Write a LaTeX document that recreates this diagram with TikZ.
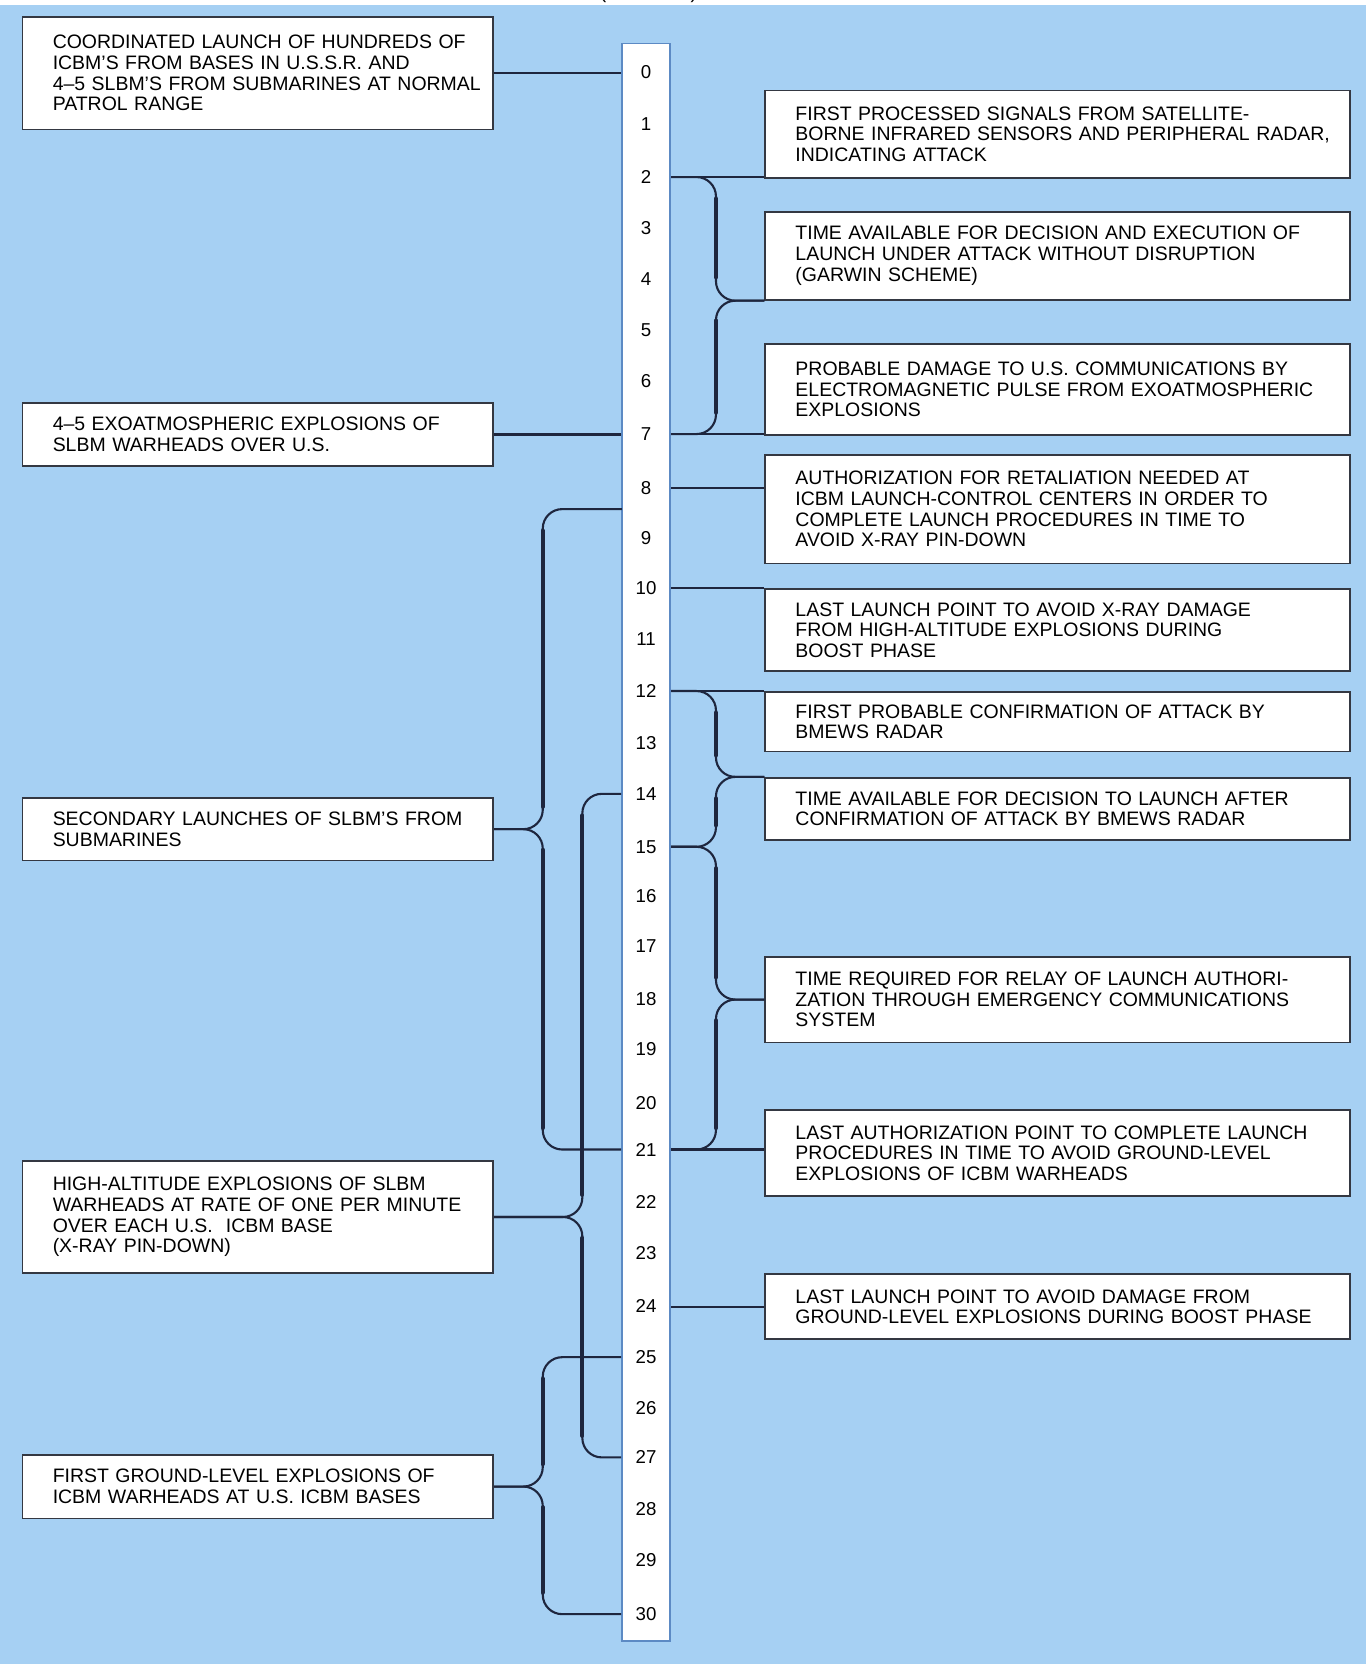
\documentclass[tikz,border=0pt]{standalone}
\usepackage{fontspec}
\setmainfont{Liberation Sans}
\definecolor{paleblue}{RGB}{166,208,243}
\definecolor{stripblue}{RGB}{92,138,196}
\definecolor{rule}{RGB}{30,38,62}
\definecolor{frame}{RGB}{52,56,66}
\begin{document}
\begin{tikzpicture}[x=0.9cm,y=0.9cm,
  event/.style={draw=frame,line width=0.9pt,fill=white,anchor=north west,
    inner xsep=0.53cm,inner ysep=0.08cm,align=left,
    font=\fontsize{9.7}{10.3}\selectfont},
  lbox/.style={event,text width=7.184cm},
  rbox/.style={event,text width=9.182cm},
  minute/.style={font=\fontsize{9.3}{10}\selectfont,inner sep=0},
  link/.style={draw=rule,line width=1.05pt},
  brace/.style={link,rounded corners=0.34cm},
  bracebar/.style={draw=rule,line width=2.1pt,line cap=round}]
\useasboundingbox (0,-30.97) rectangle (26.576,1.405);
\fill[paleblue] (0,-30.97) rectangle (26.576,1.307);
\node[anchor=south,inner sep=0,font=\fontsize{10}{12}\selectfont] (lpar) at (11.73,1.346) {(};
\node[anchor=south,inner sep=0,font=\fontsize{10}{12}\selectfont] (rpar) at (13.50,1.346) {)};

% time scale
\node[draw=stripblue,line width=0.8pt,fill=white,inner sep=0,
  minimum width=0.846cm,minimum height=27.97cm] (col) at (12.57,-14.98) {};
\foreach \n/\y in {0/0,1/-1.01,2/-2.04,3/-3.03,4/-4.03,5/-5.02,6/-6.01,7/-7.04,
  8/-8.09,9/-9.06,10/-10.04,11/-11.03,12/-12.04,13/-13.05,14/-14.04,15/-15.07,
  16/-16.02,17/-17.01,18/-18.03,19/-19.0,20/-20.05,21/-20.96,22/-21.99,23/-22.98,
  24/-24.0,25/-25.0,26/-26.0,27/-26.95,28/-27.96,29/-28.95,30/-30.0}
  \node[minute] (m\n) at (12.57,\y) {\n};
\coordinate (sectop) at (12.10,-8.5);
\coordinate (rbr) at (13.93,0);
\coordinate (lbr) at (10.56,0);
\coordinate (hbr) at (11.33,0);

% Soviet side
\node[lbox,minimum height=1.971cm] (launch) at (0.42,1.094)
  {\mbox{COORDINATED LAUNCH OF HUNDREDS OF}\\\mbox{ICBM'S FROM BASES IN U.S.S.R. AND}\\\mbox{4--5 SLBM'S FROM SUBMARINES AT NORMAL}\\\mbox{PATROL RANGE}};
\node[lbox,minimum height=1.098cm] (exo) at (0.42,-6.42)
  {\mbox{4--5 EXOATMOSPHERIC EXPLOSIONS OF}\\\mbox{SLBM WARHEADS OVER U.S.}};
\node[lbox,minimum height=1.098cm] (secondary) at (0.42,-14.10)
  {\mbox{SECONDARY LAUNCHES OF SLBM'S FROM}\\\mbox{SUBMARINES}};
\node[lbox,minimum height=1.971cm] (highalt) at (0.42,-21.16)
  {\mbox{HIGH-ALTITUDE EXPLOSIONS OF SLBM}\\\mbox{WARHEADS AT RATE OF ONE PER MINUTE}\\\mbox{OVER EACH U.S.\ \ ICBM BASE}\\\mbox{(X-RAY PIN-DOWN)}};
\node[lbox,minimum height=1.116cm] (ground) at (0.42,-26.88)
  {\mbox{FIRST GROUND-LEVEL EXPLOSIONS OF}\\\mbox{ICBM WARHEADS AT U.S. ICBM BASES}};

% U.S. side
\node[rbox,minimum height=1.53cm] (signals) at (14.87,-0.34)
  {\mbox{FIRST PROCESSED SIGNALS FROM SATELLITE-}\\\mbox{BORNE INFRARED SENSORS AND PERIPHERAL RADAR,}\\\mbox{INDICATING ATTACK}};
\node[rbox,minimum height=1.539cm] (garwin) at (14.87,-2.70)
  {\mbox{TIME AVAILABLE FOR DECISION AND EXECUTION OF}\\\mbox{LAUNCH UNDER ATTACK WITHOUT DISRUPTION}\\\mbox{(GARWIN SCHEME)}};
\node[rbox,minimum height=1.593cm] (emp) at (14.87,-5.27)
  {\mbox{PROBABLE DAMAGE TO U.S. COMMUNICATIONS BY}\\\mbox{ELECTROMAGNETIC PULSE FROM EXOATMOSPHERIC}\\\mbox{EXPLOSIONS}};
\node[rbox,minimum height=1.899cm] (authorize) at (14.87,-7.43)
  {\mbox{AUTHORIZATION FOR RETALIATION NEEDED AT}\\\mbox{ICBM LAUNCH-CONTROL CENTERS IN ORDER TO}\\\mbox{COMPLETE LAUNCH PROCEDURES IN TIME TO}\\\mbox{AVOID X-RAY PIN-DOWN}};
\node[rbox,minimum height=1.431cm] (xray) at (14.87,-10.04)
  {\mbox{LAST LAUNCH POINT TO AVOID X-RAY DAMAGE}\\\mbox{FROM HIGH-ALTITUDE EXPLOSIONS DURING}\\\mbox{BOOST PHASE}};
\node[rbox,minimum height=1.044cm] (bmews) at (14.87,-12.04)
  {\mbox{FIRST PROBABLE CONFIRMATION OF ATTACK BY}\\\mbox{BMEWS RADAR}};
\node[rbox,minimum height=1.089cm] (decide) at (14.87,-13.71)
  {\mbox{TIME AVAILABLE FOR DECISION TO LAUNCH AFTER}\\\mbox{CONFIRMATION OF ATTACK BY BMEWS RADAR}};
\node[rbox,minimum height=1.503cm] (relay) at (14.87,-17.19)
  {\mbox{TIME REQUIRED FOR RELAY OF LAUNCH AUTHORI-}\\\mbox{ZATION THROUGH EMERGENCY COMMUNICATIONS}\\\mbox{SYSTEM}};
\node[rbox,minimum height=1.512cm] (lastauth) at (14.87,-20.17)
  {\mbox{LAST AUTHORIZATION POINT TO COMPLETE LAUNCH}\\\mbox{PROCEDURES IN TIME TO AVOID GROUND-LEVEL}\\\mbox{EXPLOSIONS OF ICBM WARHEADS}};
\node[rbox,minimum height=1.134cm] (boost) at (14.87,-23.37)
  {\mbox{LAST LAUNCH POINT TO AVOID DAMAGE FROM}\\\mbox{GROUND-LEVEL EXPLOSIONS DURING BOOST PHASE}};

% single ties
\draw[link] (launch.east) -- (launch.east -| col.west);
\draw[link] (exo.east) -- (exo.east -| col.west);
\draw[link] (m2 -| col.east) -- (m2 -| signals.west);
\draw[link] (m7 -| col.east) -- (m7 -| emp.west);
\draw[link] (m8 -| col.east) -- (m8 -| authorize.west);
\draw[link] (m10 -| col.east) -- (m10 -| xray.west);
\draw[link] (m12 -| col.east) -- (m12 -| bmews.west);
\draw[link] (m21 -| col.east) -- (m21 -| lastauth.west);
\draw[link] (boost.west) -- (boost.west -| col.east);

% braces
\draw[brace] (m2 -| col.east) -- (m2 -| rbr) -- (garwin.south -| rbr) -- (garwin.south west);
\draw[brace] (m7 -| col.east) -- (m7 -| rbr) -- (garwin.south -| rbr) -- (garwin.south west);
\draw[brace] (m12 -| col.east) -- (m12 -| rbr) -- (decide.north -| rbr) -- (decide.north west);
\draw[brace] (m15 -| col.east) -- (m15 -| rbr) -- (decide.north -| rbr) -- (decide.north west);
\draw[brace] (m15 -| col.east) -- (m15 -| rbr) -- (relay.west -| rbr) -- (relay.west);
\draw[brace] (m21 -| col.east) -- (m21 -| rbr) -- (relay.west -| rbr) -- (relay.west);
\draw[brace] (sectop) -- (sectop -| lbr) -- (secondary.east -| lbr) -- (secondary.east);
\draw[brace] (m21 -| col.west) -- (m21 -| lbr) -- (secondary.east -| lbr) -- (secondary.east);
\draw[brace] (m25 -| col.west) -- (m25 -| lbr) -- (ground.east -| lbr) -- (ground.east);
\draw[brace] (m30 -| col.west) -- (m30 -| lbr) -- (ground.east -| lbr) -- (ground.east);
\foreach \x/\a/\b in {13.93/2.04/4.41,13.93/4.41/7.04,13.93/12.04/13.71,13.93/13.71/15.07,
  13.93/15.07/18.03,13.93/18.03/20.96,10.56/8.5/14.71,10.56/14.71/20.96,10.56/25/27.5,10.56/27.5/30}
  \draw[bracebar] (\x,-\a-0.42) -- (\x,-\b+0.42);
\draw[brace] (m14 -| col.west) -- (m14 -| hbr) -- (highalt.east -| hbr) -- (highalt.east);
\draw[brace] (m27 -| col.west) -- (m27 -| hbr) -- (highalt.east -| hbr) -- (highalt.east);
\foreach \x/\a/\b in {11.33/14.04/22.26,11.33/22.26/26.95}
  \draw[bracebar] (\x,-\a-0.42) -- (\x,-\b+0.42);
\end{tikzpicture}
\end{document}
